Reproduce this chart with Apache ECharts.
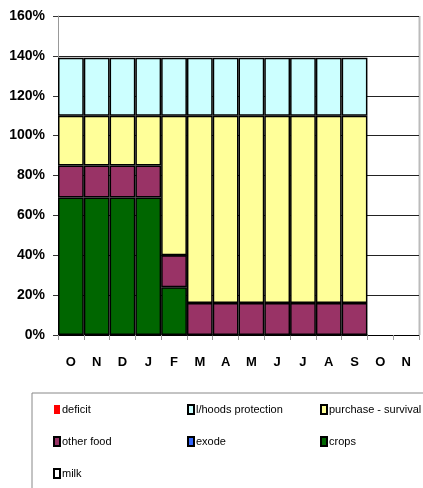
<!DOCTYPE html>
<html>
<head>
<meta charset="utf-8">
<script src="https://cdn.jsdelivr.net/npm/echarts@6/dist/echarts.min.js"></script>
<style>
html,body{margin:0;padding:0;background:#fff;}
#c{width:423px;height:488px;}
</style>
</head>
<body>
<div id="c"></div>
<script>
var months = ['O','N','D','J','F','M','A','M','J','J','A','S','O','N'];
var crops      = [69, 69, 69, 69, 24, 0, 0, 0, 0, 0, 0, 0, null, null];
var otherFood  = [16, 16, 16, 16, 16, 16, 16, 16, 16, 16, 16, 16, null, null];
var purchase   = [25, 25, 25, 25, 70, 94, 94, 94, 94, 94, 94, 94, null, null];
var lhoods     = [29, 29, 29, 29, 29, 29, 29, 29, 29, 29, 29, 29, null, null];
var deficit    = [null, null, null, null, null, null, null, null, null, null, null, null, null, null];
var exode      = [null, null, null, null, null, null, null, null, null, null, null, null, null, null];
var milk       = [null, null, null, null, null, null, null, null, null, null, null, null, null, null];
var yTicks = [0, 20, 40, 60, 80, 100, 120, 140, 160];

var FONT = '"Liberation Sans Narrow","Liberation Sans",Arial,sans-serif';
var chart = echarts.init(document.getElementById('c'), null, {renderer:'canvas'});

function bar(name, data, color, noBorder) {
  return {
    name: name, type: 'bar', stack: 'total', data: data,
    barWidth: '100%', barCategoryGap: 0,
    itemStyle: { color: color, borderColor: noBorder ? color : '#000', borderWidth: noBorder ? 0 : 1.5 },
    emphasis: { disabled: true }
  };
}

var legendCommon = {
  orient: 'vertical', itemWidth: 6, itemHeight: 9, itemGap: 19,
  height: 200, icon: 'rect',
  textStyle: { fontFamily: FONT, fontSize: 11, color: '#000', lineHeight: 13, padding: [0, 0, 0, -3] },
  selectedMode: false
};

var option = {
  animation: false,
  backgroundColor: '#fff',
  grid: { left: 58, top: 16, right: 4, bottom: 153, containLabel: false },
  xAxis: {
    type: 'category', data: months,
    axisLine: { lineStyle: { color: '#000', width: 1 } },
    axisTick: { show: true, length: 5, lineStyle: { color: '#999' } },
    axisLabel: { fontFamily: FONT, fontWeight: 'bold', fontSize: 13, color: '#000', margin: 21, interval: 0 }
  },
  yAxis: {
    type: 'value', min: yTicks[0], max: yTicks[yTicks.length - 1], interval: yTicks[1] - yTicks[0],
    axisLine: { show: true, lineStyle: { color: '#999', width: 1 } },
    axisTick: { show: true, length: 5, lineStyle: { color: '#333' } },
    splitLine: { show: true, lineStyle: { color: '#222', width: 1 } },
    axisLabel: { formatter: '{value}%', fontFamily: FONT, fontWeight: 'bold', fontSize: 14, color: '#000', margin: 13 }
  },
  legend: [
    Object.assign({}, legendCommon, { left: 48, top: 398, data: [
      { name: 'deficit', itemStyle: { borderWidth: 0 } },
      { name: 'other food' },
      { name: 'milk' }
    ] }),
    Object.assign({}, legendCommon, { left: 182, top: 398, data: [
      { name: 'l/hoods protection' },
      { name: 'exode' }
    ] }),
    Object.assign({}, legendCommon, { left: 315, top: 398, data: [
      { name: 'purchase - survival' },
      { name: 'crops' }
    ] })
  ],
  graphic: [
    { type: 'rect', shape: { x: 32, y: 393, width: 420, height: 120 }, style: { fill: 'none', stroke: '#888', lineWidth: 1 }, silent: true },
    { type: 'line', shape: { x1: 419.5, y1: 16, x2: 419.5, y2: 335 }, style: { stroke: '#bbb', lineWidth: 2 }, silent: true }
  ],
  series: [
    bar('crops', crops, '#006600'),
    bar('other food', otherFood, '#993366'),
    bar('purchase - survival', purchase, '#FFFF99'),
    bar('l/hoods protection', lhoods, '#CCFFFF'),
    bar('deficit', deficit, '#FF0000', true),
    bar('exode', exode, '#3366FF'),
    bar('milk', milk, '#FFFFFF')
  ]
};
chart.setOption(option);
</script>
</body>
</html>
